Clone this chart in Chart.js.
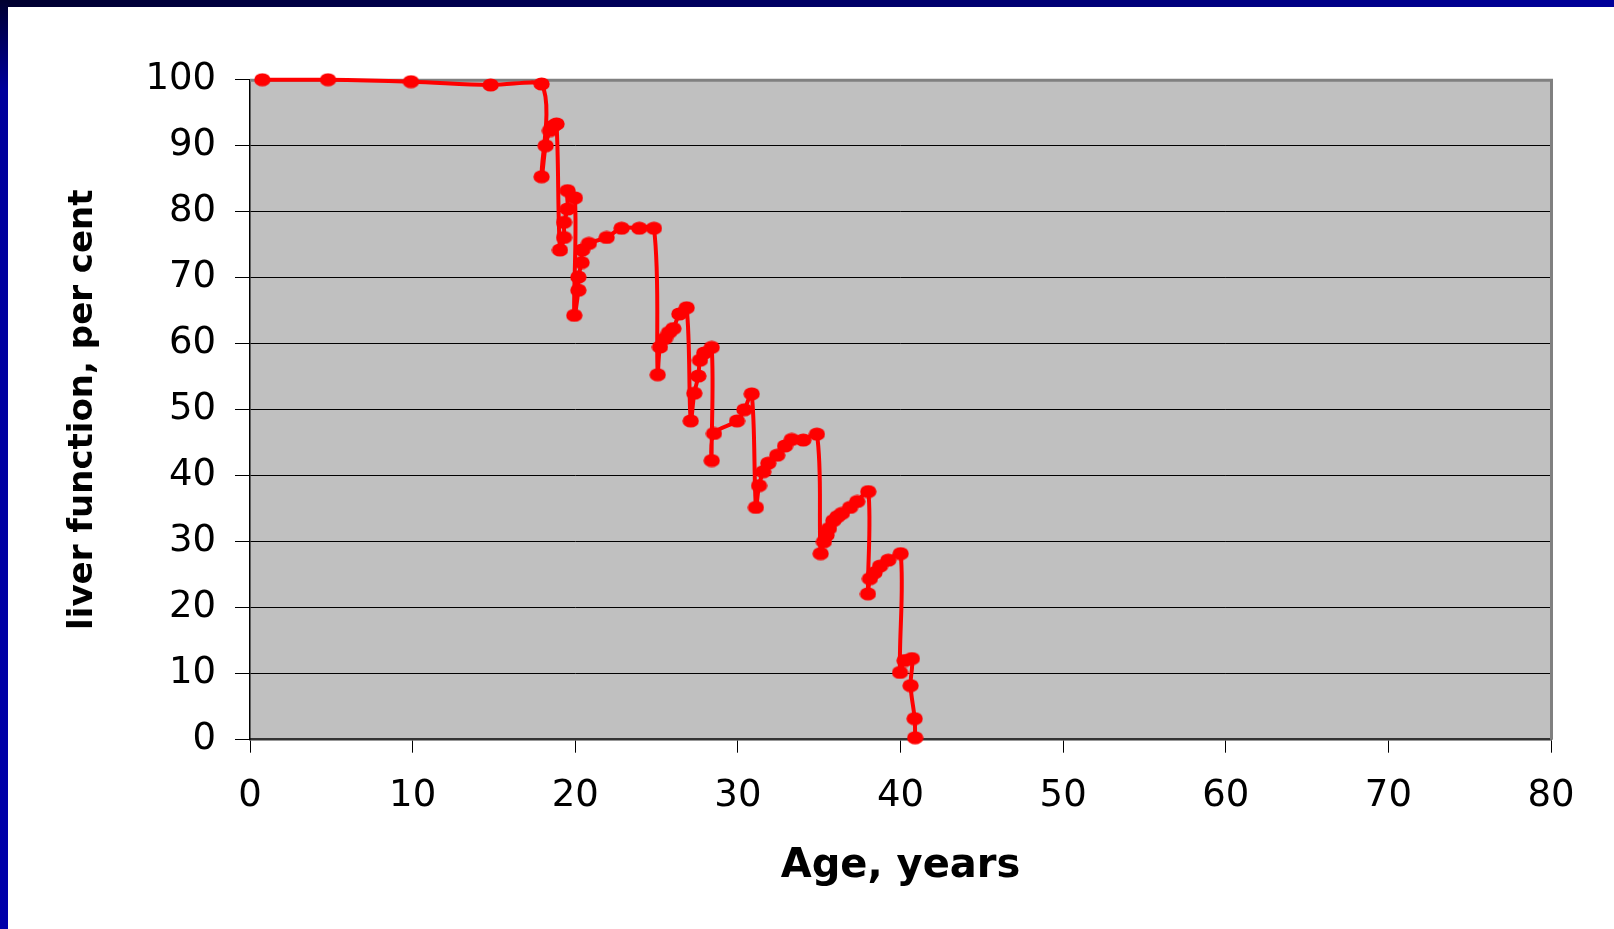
<!DOCTYPE html>
<html><head><meta charset="utf-8">
<script src="https://cdn.jsdelivr.net/npm/chart.js@4.4.1/dist/chart.umd.min.js"></script>
<style>
html,body{margin:0;padding:0;background:#fff;width:1614px;height:929px;overflow:hidden;}
#topbar{position:absolute;left:0;top:0;width:1614px;height:7px;background:linear-gradient(to right,#000030,#00009a);}
#leftbar{position:absolute;left:0;top:0;width:8px;height:929px;background:linear-gradient(to bottom,#000030 0px,#00009c 90px,#0000aa 100%);}
#c{position:absolute;left:0;top:0;}
</style></head><body>
<div id="topbar"></div><div id="leftbar"></div>
<canvas id="c" width="1614" height="929"></canvas>
<script>
// Age (years) and liver function (per cent), in the order the line joins them
const ages = [0.76, 4.8, 9.9, 14.8, 17.93, 17.93, 18.18, 18.44, 18.65, 18.85,
  19.06, 19.31, 19.31, 19.53, 19.53, 19.98, 19.94, 20.19, 20.19, 20.39,
  20.43, 20.84, 21.93, 22.85, 23.94, 24.84, 25.07, 25.21, 25.52, 25.76,
  26.03, 26.4, 26.85, 27.1, 27.32, 27.57, 27.67, 27.93, 28.39, 28.39,
  28.53, 29.95, 30.4, 30.85, 31.11, 31.3, 31.56, 31.87, 32.42, 32.9,
  33.31, 34.02, 34.86, 35.09, 35.29, 35.45, 35.6, 35.87, 36.12, 36.4,
  36.9, 37.34, 38.02, 38.0, 38.12, 38.4, 38.74, 39.25, 40.01, 39.97,
  40.25, 40.7, 40.62, 40.87, 40.9];
const liverFunction = [100, 100, 99.7, 99.2, 99.35, 85.3, 90.0, 92.3, 93.0, 93.3,
  74.2, 76.1, 78.4, 80.4, 83.2, 82.1, 64.3, 68.1, 70.1, 72.3,
  74.2, 75.2, 76.1, 77.5, 77.5, 77.5, 55.3, 59.5, 60.8, 61.7,
  62.3, 64.5, 65.45, 48.3, 52.5, 55.1, 57.5, 58.6, 59.45, 42.3,
  46.4, 48.3, 50.0, 52.4, 35.2, 38.5, 40.6, 41.9, 43.1, 44.5,
  45.5, 45.4, 46.3, 28.2, 30.0, 31.0, 32.0, 33.2, 33.8, 34.3,
  35.2, 36.1, 37.6, 22.1, 24.4, 25.3, 26.3, 27.2, 28.2, 10.2,
  12.0, 12.3, 8.2, 3.2, 0.3];
const xTickValues = [0, 10, 20, 30, 40, 50, 60, 70, 80];
const yTickValues = [0, 10, 20, 30, 40, 50, 60, 70, 80, 90, 100];
const xTitle = 'Age, years';
const yTitle = 'liver function, per cent';

const points = ages.map((a, i) => ({x: a, y: liverFunction[i]}));

// elliptical marker
const dot = document.createElement('canvas');
dot.width = 17; dot.height = 14;
const g = dot.getContext('2d');
g.fillStyle = '#ff0000';
g.beginPath(); g.ellipse(8.5, 7, 8.2, 6.6, 0, 0, Math.PI * 2); g.fill();

const plotBg = {
  id: 'plotBg',
  beforeDraw(chart) {
    const {ctx, chartArea: a} = chart;
    ctx.save();
    ctx.fillStyle = '#c0c0c0';
    ctx.fillRect(a.left, a.top, a.right - a.left, a.bottom - a.top);
    ctx.restore();
  },
  beforeDatasetsDraw(chart) {
    const {ctx, chartArea: a} = chart;
    ctx.save();
    ctx.strokeStyle = '#808080';
    ctx.lineWidth = 3;
    ctx.beginPath();
    ctx.moveTo(a.left, a.top + 0.5);
    ctx.lineTo(a.right + 0.5, a.top + 0.5);
    ctx.lineTo(a.right + 0.5, a.bottom);
    ctx.stroke();
    ctx.restore();
  }
};

new Chart(document.getElementById('c'), {
  type: 'line',
  data: {
    datasets: [{
      data: points,
      borderColor: '#ff0000',
      backgroundColor: '#ff0000',
      borderWidth: 4,
      pointStyle: dot,
      pointRadius: 7,
      pointHoverRadius: 7,
      tension: 0.35,
      clip: false,
      fill: false
    }]
  },
  options: {
    responsive: false,
    animation: false,
    devicePixelRatio: 1,
    layout: {padding: {left: 0, top: 79.7, right: 63, bottom: 0}},
    plugins: {legend: {display: false}, tooltip: {enabled: false}},
    scales: {
      x: {
        type: 'linear', min: 0, max: 80,
        afterBuildTicks(s) { s.ticks = xTickValues.map(v => ({value: v})); },
        afterFit(s) { s.height = 929 - 739.7; },
        grid: {drawOnChartArea: false, drawTicks: true, tickLength: 13, tickColor: '#000', tickWidth: 1},
        border: {display: true, color: '#333', width: 2.5},
        ticks: {color: '#000', padding: 21.6, font: {family: 'DejaVu Sans', size: 37}, maxRotation: 0},
        title: {display: true, text: xTitle, color: '#000',
          font: {family: 'DejaVu Sans', size: 40, weight: 'bold'}, padding: {top: 0, bottom: 38}}
      },
      y: {
        type: 'linear', min: 0, max: 100,
        afterBuildTicks(s) { s.ticks = yTickValues.map(v => ({value: v})); },
        afterFit(s) { s.width = 250; },
        grid: {
          color: (c) => (c.tick && (c.tick.value === 100 || c.tick.value === 0)) ? 'rgba(0,0,0,0)' : '#000',
          lineWidth: 1, drawTicks: true, tickLength: 15, tickColor: '#000', tickWidth: 1
        },
        border: {display: true, color: '#000', width: 1.5},
        ticks: {color: '#000', padding: 19, font: {family: 'DejaVu Sans', size: 37}},
        title: {display: true, text: yTitle, color: '#000',
          font: {family: 'DejaVu Sans', size: 34, weight: 'bold'}, padding: {top: 63, bottom: 0}}
      }
    }
  },
  plugins: [plotBg]
});
</script>
</body></html>
